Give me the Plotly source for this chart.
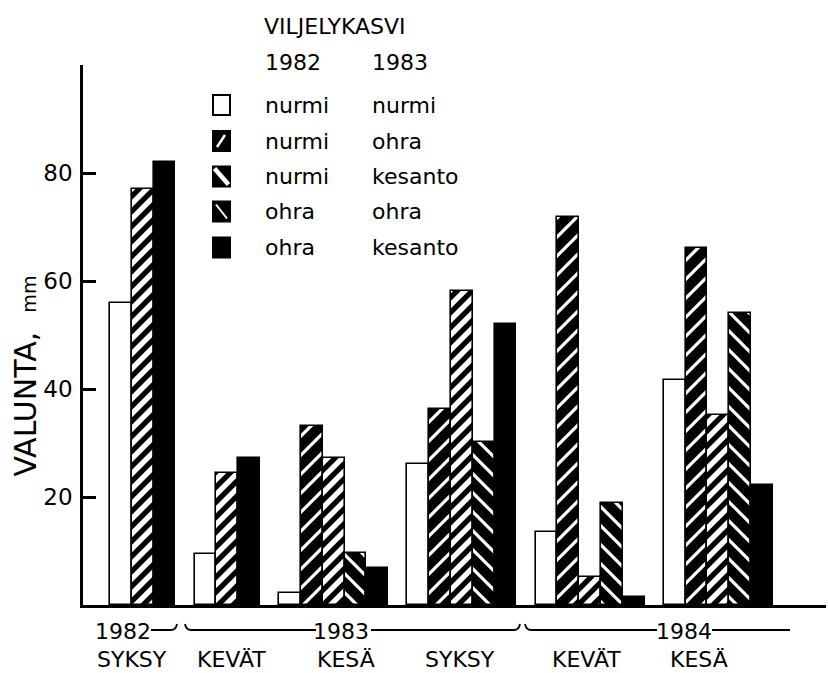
import math
import plotly.graph_objects as go

# Runoff (VALUNTA, mm) per season for five crop sequences (1982 crop / 1983 crop)
groups = ["1982 SYKSY", "1983 KEVÄT", "1983 KESÄ", "1983 SYKSY", "1984 KEVÄT", "1984 KESÄ"]
crop_1982 = ["nurmi", "nurmi", "nurmi", "ohra", "ohra"]
crop_1983 = ["nurmi", "ohra", "kesanto", "ohra", "kesanto"]

nurmi_nurmi = [56.0, 9.4, 2.3, 26.2, 13.6, 41.7]
nurmi_ohra = [None, None, 33.1, 36.3, 71.9, 66.2]
nurmi_kesanto = [77.0, 24.5, 27.2, 58.2, 5.2, 35.2]
ohra_ohra = [None, None, 9.7, 30.2, 18.9, 54.1]
ohra_kesanto = [82.0, 27.2, 6.9, 52.0, 1.5, 22.2]

season_labels = ["SYKSY", "KEVÄT", "KESÄ", "SYKSY", "KEVÄT", "KESÄ"]
year_labels = ["1982", "1983", "1984"]
y_ticks = [20, 40, 60, 80]

series = [nurmi_nurmi, nurmi_ohra, nurmi_kesanto, ohra_ohra, ohra_kesanto]

FONT = "DejaVu Sans, sans-serif"
W, H = 828, 673
L, R, T, B = 83, 2, 65, 68
GROUP_GAP = 0.88


def px(x):
    return (x - L) / (W - L - R)


def py(y):
    return (H - B - y) / (H - T - B)


# bar positions: bars inside a group touch, groups separated by a gap
group_start = []
pos = 0.0
for g in range(len(groups)):
    group_start.append(pos)
    n = sum(1 for s in series if s[g] is not None)
    pos += n + GROUP_GAP

xs = [[] for _ in series]
ys = [[] for _ in series]
for g in range(len(groups)):
    k = 0
    for i, s in enumerate(series):
        if s[g] is not None:
            xs[i].append(group_start[g] + k + 0.5)
            ys[i].append(s[g])
            k += 1

# hatch tiles chosen so their repeat is a whole number of pixels
dense = 15 / math.sqrt(2)
sparse = 19 / math.sqrt(2)
styles = [
    dict(color="white", pattern=dict(shape="")),
    dict(color="black", pattern=dict(shape="/", bgcolor="black", fgcolor="white", fgopacity=1,
                                     size=sparse, solidity=0.24)),
    dict(color="white", pattern=dict(shape="/", bgcolor="white", fgcolor="black", fgopacity=1,
                                     size=dense, solidity=0.5)),
    dict(color="black", pattern=dict(shape="\\", bgcolor="black", fgcolor="white", fgopacity=1,
                                     size=sparse, solidity=0.24)),
    dict(color="black", pattern=dict(shape="")),
]

fig = go.Figure()
for i in range(len(series)):
    fig.add_trace(go.Bar(
        x=xs[i], y=ys[i], width=1.0,
        name=f"{crop_1982[i]} / {crop_1983[i]}",
        marker=dict(color=styles[i]["color"], pattern=styles[i]["pattern"],
                    line=dict(color="black", width=1.6)),
        showlegend=False,
    ))

x_left = -(110 - L) / 21.8
x_right = x_left + (W - L - R) / 21.8

shapes = []
annotations = []


def label(text, x, y, anchor="left", size=22, **kw):
    annotations.append(dict(text=text, x=px(x), y=py(y), xref="paper", yref="paper",
                            xanchor=anchor, yanchor="middle", showarrow=False,
                            font=dict(size=size), **kw))


# legend block
label("VILJELYKASVI", 262, 27)
label("1982", 263, 63)
label("1983", 370, 63)
row_y = [105, 141, 176.5, 211.5, 247.5]
for i, cy in enumerate(row_y):
    label(crop_1982[i], 263, cy)
    label(crop_1983[i], 370, cy)
    fill = "white" if i == 0 else "black"
    shapes.append(dict(type="rect", xref="paper", yref="paper", x0=px(213), x1=px(230),
                       y0=py(cy + 10), y1=py(cy - 10), fillcolor=fill,
                       line=dict(color="black", width=2)))
    if i == 1:
        shapes.append(dict(type="line", xref="paper", yref="paper", x0=px(217), y0=py(cy + 6),
                           x1=px(225), y1=py(cy - 6), line=dict(color="white", width=2.5)))
    elif i == 2:
        shapes.append(dict(type="line", xref="paper", yref="paper", x0=px(214.5), y0=py(cy - 8),
                           x1=px(228.5), y1=py(cy + 8), line=dict(color="white", width=4.5)))
    elif i == 3:
        shapes.append(dict(type="line", xref="paper", yref="paper", x0=px(216), y0=py(cy - 7),
                           x1=px(227), y1=py(cy + 7), line=dict(color="white", width=2)))

# y axis title
label("VALUNTA,  <span style='font-size:19px'>mm</span>", 25, 376.5, anchor="center",
      size=30, textangle=-90)

# season labels under the groups
season_x = [132, 231, 346, 460, 586.5, 698.5]
for lab, sx in zip(season_labels, season_x):
    label(lab, sx, 659.5, anchor="center")

# year labels with bracket lines
year_x = [123, 341, 684]
for lab, yx in zip(year_labels, year_x):
    label(lab, yx, 631, anchor="center")


def path(points):
    parts = []
    for cmd, pts in points:
        parts.append(cmd + " ".join(f"{px(a):.5f},{py(b):.5f}" for a, b in pts))
    return " ".join(parts)


ly = 630
bracket_paths = [
    [("M", [(151, ly)]), ("L", [(171, ly)]), ("Q", [(176, ly), (177, ly - 6)])],
    [("M", [(185, ly - 6)]), ("Q", [(186, ly), (191, ly)]), ("L", [(316, ly)])],
    [("M", [(371, ly)]), ("L", [(514, ly)]), ("Q", [(519, ly), (520, ly - 6)])],
    [("M", [(525, ly - 6)]), ("Q", [(526, ly), (531, ly)]), ("L", [(657, ly)])],
    [("M", [(712, ly)]), ("L", [(790, ly)])],
]
for p in bracket_paths:
    shapes.append(dict(type="path", xref="paper", yref="paper", path=path(p),
                       line=dict(color="black", width=1.8)))

fig.update_layout(
    width=W, height=H,
    margin=dict(l=L, r=R, t=T, b=B, pad=0),
    paper_bgcolor="white", plot_bgcolor="white",
    barmode="overlay", bargap=0,
    font=dict(family=FONT, size=22, color="black"),
    xaxis=dict(range=[x_left, x_right], showgrid=False, zeroline=False, showline=True,
               linecolor="black", linewidth=2.5, showticklabels=False, ticks=""),
    yaxis=dict(range=[0, 100], showgrid=False, zeroline=False, showline=True,
               linecolor="black", linewidth=2.5, tickvals=y_ticks, ticks="inside",
               ticklen=13, tickwidth=2.5, tickcolor="black", tickfont=dict(size=23),
               ticklabelstandoff=3),
    shapes=shapes,
    annotations=annotations,
)

fig.write_html("out.html")
